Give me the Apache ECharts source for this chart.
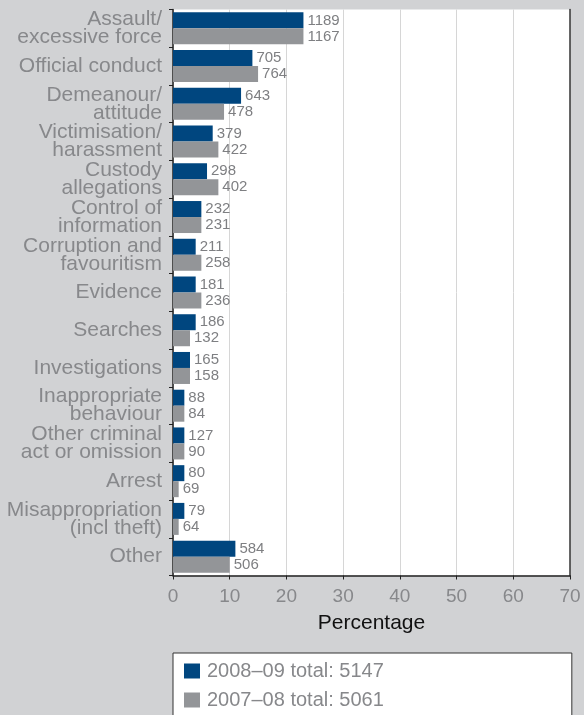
<!DOCTYPE html>
<html>
<head>
<meta charset="utf-8">
<script src="https://cdn.jsdelivr.net/npm/echarts@6/dist/echarts.min.js"></script>
<style>
  html, body { margin: 0; padding: 0; background: #d1d2d4; }
  #chart { width: 584px; height: 715px; }
</style>
</head>
<body>
<div id="chart"></div>
<script>
// Complaint categories (top to bottom)
const categories = [
  'Assault/\nexcessive force', 'Official conduct', 'Demeanour/\nattitude',
  'Victimisation/\nharassment', 'Custody\nallegations', 'Control of\ninformation',
  'Corruption and\nfavouritism', 'Evidence', 'Searches', 'Investigations',
  'Inappropriate\nbehaviour', 'Other criminal\nact or omission', 'Arrest',
  'Misappropriation\n(incl theft)', 'Other'
];

// Share of all allegations, rounded percentage
const pct2009 = [23, 14, 12, 7, 6, 5, 4, 4, 4, 3, 2, 2, 2, 2, 11];
const pct2008 = [23, 15, 9, 8, 8, 5, 5, 5, 3, 3, 2, 2, 1, 1, 10];

// Number of allegations shown beside each bar
const count2009 = [1189, 705, 643, 379, 298, 232, 211, 181, 186, 165, 88, 127, 80, 79, 584];
const count2008 = [1167, 764, 478, 422, 402, 231, 258, 236, 132, 158, 84, 90, 69, 64, 506];

const seriesNames = ['2008\u201309 total: 5147', '2007\u201308 total: 5061'];
const xTicks = { min: 0, max: 70, interval: 10 };

const FONT = 'Liberation Sans, Arial, Helvetica, sans-serif';
const GREY_TEXT = '#87888b';

const chart = echarts.init(document.getElementById('chart'));

function valueLabel(counts) {
  return {
    show: true,
    position: 'right',
    distance: 4,
    fontFamily: FONT,
    fontSize: 15,
    color: '#7e7f82',
    formatter: p => String(counts[p.dataIndex])
  };
}

chart.setOption({
  backgroundColor: '#d1d2d4',
  animation: false,
  grid: {
    left: 173, right: 14, top: 9.5, bottom: 139.5,
    show: true, backgroundColor: '#ffffff', borderWidth: 0
  },
  xAxis: {
    type: 'value',
    min: xTicks.min, max: xTicks.max, interval: xTicks.interval,
    name: 'Percentage',
    nameLocation: 'middle',
    nameGap: 37,
    nameTextStyle: { fontFamily: FONT, fontSize: 21, color: '#111111' },
    axisLine: { show: true, lineStyle: { color: '#222222', width: 1.5 } },
    axisTick: { show: true, length: 4, lineStyle: { color: '#222222' } },
    axisLabel: { fontFamily: FONT, fontSize: 19, color: GREY_TEXT, margin: 12 },
    splitLine: { show: true, lineStyle: { color: '#d6d6d6', width: 1 } }
  },
  yAxis: [
    {
      type: 'category',
      inverse: true,
      data: categories,
      axisLine: { show: true, lineStyle: { color: '#222222', width: 1.5 } },
      axisTick: { show: true, length: 4, lineStyle: { color: '#222222' } },
      axisLabel: {
        fontFamily: FONT, fontSize: 21, lineHeight: 18,
        color: GREY_TEXT, margin: 11, align: 'right',
        padding: [4, 0, 0, 0]
      }
    },
    {
      type: 'category',
      position: 'right',
      data: categories,
      axisLine: { show: true, lineStyle: { color: '#333333', width: 1.5 } },
      axisTick: { show: false },
      axisLabel: { show: false }
    }
  ],
  legend: {
    orient: 'vertical',
    left: 173, top: 653,
    height: 80,
    padding: [8, 188, 20, 11],
    backgroundColor: '#ffffff',
    borderColor: '#333333',
    borderWidth: 1,
    itemWidth: 16, itemHeight: 15, itemGap: 9,
    icon: 'rect',
    textStyle: {
      fontFamily: FONT, fontSize: 20,
      color: GREY_TEXT, padding: [0, 0, 0, 2]
    },
    data: seriesNames
  },
  series: [
    {
      name: seriesNames[0],
      type: 'bar',
      data: pct2009,
      barWidth: 16,
      barGap: '0%',
      itemStyle: { color: '#00467f' },
      label: valueLabel(count2009)
    },
    {
      name: seriesNames[1],
      type: 'bar',
      data: pct2008,
      barWidth: 16,
      barGap: '0%',
      itemStyle: { color: '#939598' },
      label: valueLabel(count2008)
    }
  ]
});
</script>
</body>
</html>
